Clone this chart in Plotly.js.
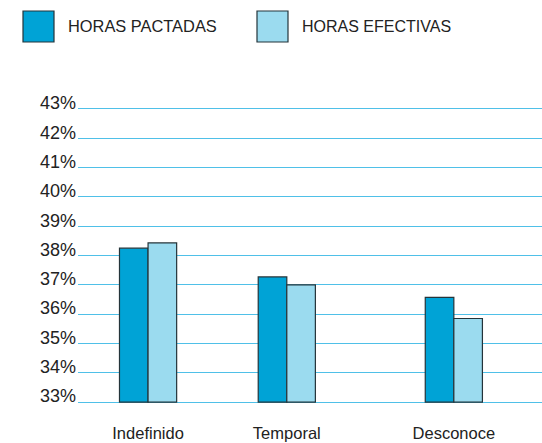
<!DOCTYPE html>
<html>
<head>
<meta charset="utf-8">
<script src="https://cdn.plot.ly/plotly-3.0.1.min.js"></script>
<style>
  html, body { margin: 0; padding: 0; background: #fff; }
  #chart { width: 542px; height: 443px; }
</style>
</head>
<body>
<div id="chart"></div>
<script>
// === DATA ===
const categories = ['Indefinido', 'Temporal', 'Desconoce'];
const pactadas = [38.25, 37.27, 36.57];
const efectivas = [38.43, 37.0, 35.85];
const seriesNames = ['HORAS PACTADAS', 'HORAS EFECTIVAS'];
const yTicks = [33, 34, 35, 36, 37, 38, 39, 40, 41, 42, 43];

// uneven category spacing as in the original
const catPos = [1.51, 4.5, 8.1];
const barW = 0.616;

const colPact = '#00a3d6';
const colEfec = '#9bdbef';
const edge = '#24343a';
const font = 'Liberation Sans, Arial, Helvetica, sans-serif';

const BASE = 33;

const traces = [
  {
    type: 'bar', name: seriesNames[0], x: catPos, y: pactadas.map(v => v - BASE),
    width: barW, offset: -barW,
    marker: { color: colPact, line: { color: edge, width: 1.2 } }
  },
  {
    type: 'bar', name: seriesNames[1], x: catPos, y: efectivas.map(v => v - BASE),
    width: barW, offset: 0,
    marker: { color: colEfec, line: { color: edge, width: 1.2 } }
  }
];

const layout = {
  width: 542, height: 443,
  margin: { l: 78, r: 0, t: 106, b: 38, pad: 0 },
  paper_bgcolor: '#fff', plot_bgcolor: '#fff',
  barmode: 'overlay',
  showlegend: false,
  font: { family: font, size: 16, color: '#222' },
  xaxis: {
    range: [0, 10],
    tickvals: catPos, ticktext: categories,
    showgrid: false, zeroline: false, showline: false, ticks: '',
    ticklabelstandoff: 16,
    tickfont: { size: 16.5, color: '#222' },
    fixedrange: true
  },
  yaxis: {
    // padded a little past 33..43 so the edge gridlines get drawn
    range: [-0.1, 10.1],
    tickvals: yTicks.map(v => v - BASE), ticktext: yTicks.map(v => v + '%'),
    showgrid: true, gridcolor: '#4fc0e8', gridwidth: 1,
    zeroline: false, showline: false, ticks: '',
    ticklabelstandoff: 1, ticklabelshift: -6,
    tickfont: { size: 18, color: '#222' },
    fixedrange: true
  },
  shapes: [
    { type: 'rect', xref: 'paper', yref: 'paper', xsizemode: 'pixel', ysizemode: 'pixel',
      xanchor: 0, yanchor: 1, x0: -55, x1: -24, y0: 95, y1: 64,
      fillcolor: colPact, line: { color: edge, width: 1.2 } },
    { type: 'rect', xref: 'paper', yref: 'paper', xsizemode: 'pixel', ysizemode: 'pixel',
      xanchor: 0, yanchor: 1, x0: 179, x1: 210, y0: 95, y1: 64,
      fillcolor: colEfec, line: { color: edge, width: 1.2 } }
  ],
  annotations: [
    { xref: 'paper', yref: 'paper', x: 0, y: 1, xanchor: 'left', yanchor: 'middle',
      xshift: -12, yshift: 80, text: seriesNames[0], showarrow: false,
      font: { size: 16.4, color: '#222' } },
    { xref: 'paper', yref: 'paper', x: 0, y: 1, xanchor: 'left', yanchor: 'middle',
      xshift: 222, yshift: 80, text: seriesNames[1], showarrow: false,
      font: { size: 16, color: '#222' } }
  ]
};

Plotly.newPlot('chart', traces, layout, { displayModeBar: false, staticPlot: true });
</script>
</body>
</html>
